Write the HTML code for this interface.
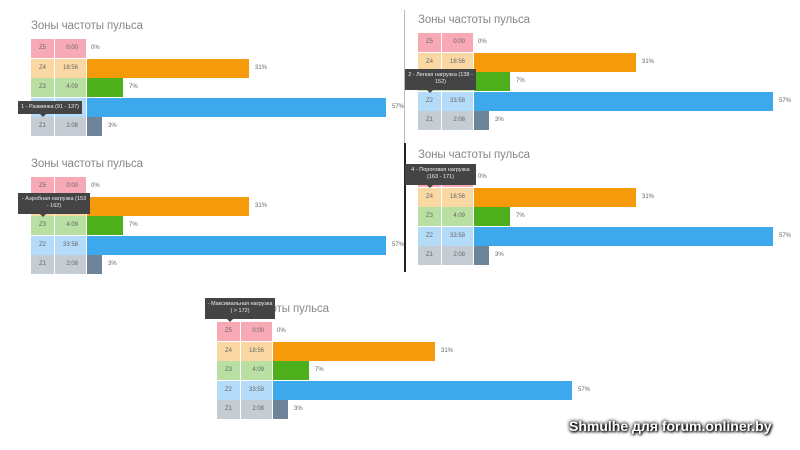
<!DOCTYPE html>
<html><head><meta charset="utf-8"><style>
body{margin:0;width:800px;height:450px;background:#fff;position:relative;overflow:hidden;font-family:"Liberation Sans","DejaVu Sans",sans-serif}
.p{position:absolute}
.t{position:absolute;left:0;top:-19px;font-size:11.5px;color:#888;white-space:nowrap;letter-spacing:-0.1px}
.r{position:absolute;left:0;height:19px;width:400px}
.a,.b{position:absolute;top:0;height:19px;font-size:6px;color:#666;text-align:center;line-height:19px}
.a{left:0;width:23px}.b{left:24px;width:31px;text-align:right}
.b span{margin-right:8px}
.bar{position:absolute;left:56px;top:0;height:19px}
.pc{position:absolute;top:0;line-height:19px;font-size:6px;color:#666}
.z5 .a,.z5 .b{background:#f7a9b5}.z4 .a,.z4 .b{background:#fad8a4}.z3 .a,.z3 .b{background:#b9e0a2}.z2 .a,.z2 .b{background:#b4dbf7}.z1 .a,.z1 .b{background:#c6ccd3}
.z4 .bar{width:162px;background:#f59b0b}.z3 .bar{width:36px;background:#4daf1b}.z2 .bar{width:299px;background:#3ea8ec}.z1 .bar{width:15px;background:#6d8499}
.z5 .pc{left:60px}.z4 .pc{left:224px}.z3 .pc{left:98px}.z2 .pc{left:361px}.z1 .pc{left:77px}
.z5{top:0}.z4{top:19.6px}.z3{top:39.2px}.z2{top:58.8px}.z1{top:78.4px}
.tip{position:absolute;background:#444;color:#eee;font-size:5.5px;line-height:7px;text-align:center;padding:3px 2px;box-sizing:border-box;white-space:nowrap;z-index:5}
.tip:after{content:"";position:absolute;bottom:-3px;left:22px;border:3px solid transparent;border-bottom:0;border-top-color:#444}
.wm{position:absolute;left:569px;top:418px;font-size:14px;font-weight:bold;color:#fff;text-shadow:0 0 3px #000,0 0 4px #000,1px 1px 2px #000;white-space:nowrap}
</style></head><body>

<div style="position:absolute;left:404px;top:10px;width:1px;height:133px;background:#bbb"></div>
<div style="position:absolute;left:404px;top:143px;width:2px;height:129px;background:#222"></div>

<div class="p" style="left:31px;top:39px"><div class="t">Зоны частоты пульса</div>
<div class="r z5"><div class="a">Z5</div><div class="b"><span>0:00</span></div><div class="pc">0%</div></div>
<div class="r z4"><div class="a">Z4</div><div class="b"><span>18:56</span></div><div class="bar"></div><div class="pc">31%</div></div>
<div class="r z3"><div class="a">Z3</div><div class="b"><span>4:09</span></div><div class="bar"></div><div class="pc">7%</div></div>
<div class="r z2"><div class="a">Z2</div><div class="b"><span>33:58</span></div><div class="bar"></div><div class="pc">57%</div></div>
<div class="r z1"><div class="a">Z1</div><div class="b"><span>2:08</span></div><div class="bar"></div><div class="pc">3%</div></div>
</div>

<div class="p" style="left:418px;top:33px"><div class="t">Зоны частоты пульса</div>
<div class="r z5"><div class="a">Z5</div><div class="b"><span>0:00</span></div><div class="pc">0%</div></div>
<div class="r z4"><div class="a">Z4</div><div class="b"><span>18:56</span></div><div class="bar"></div><div class="pc">31%</div></div>
<div class="r z3"><div class="a">Z3</div><div class="b"><span>4:09</span></div><div class="bar"></div><div class="pc">7%</div></div>
<div class="r z2"><div class="a">Z2</div><div class="b"><span>33:58</span></div><div class="bar"></div><div class="pc">57%</div></div>
<div class="r z1"><div class="a">Z1</div><div class="b"><span>2:08</span></div><div class="bar"></div><div class="pc">3%</div></div>
</div>

<div class="p" style="left:31px;top:177px"><div class="t">Зоны частоты пульса</div>
<div class="r z5"><div class="a">Z5</div><div class="b"><span>0:00</span></div><div class="pc">0%</div></div>
<div class="r z4"><div class="a">Z4</div><div class="b"><span>18:56</span></div><div class="bar"></div><div class="pc">31%</div></div>
<div class="r z3"><div class="a">Z3</div><div class="b"><span>4:09</span></div><div class="bar"></div><div class="pc">7%</div></div>
<div class="r z2"><div class="a">Z2</div><div class="b"><span>33:58</span></div><div class="bar"></div><div class="pc">57%</div></div>
<div class="r z1"><div class="a">Z1</div><div class="b"><span>2:08</span></div><div class="bar"></div><div class="pc">3%</div></div>
</div>

<div class="p" style="left:418px;top:168px"><div class="t">Зоны частоты пульса</div>
<div class="r z5"><div class="a">Z5</div><div class="b"><span>0:00</span></div><div class="pc">0%</div></div>
<div class="r z4"><div class="a">Z4</div><div class="b"><span>18:56</span></div><div class="bar"></div><div class="pc">31%</div></div>
<div class="r z3"><div class="a">Z3</div><div class="b"><span>4:09</span></div><div class="bar"></div><div class="pc">7%</div></div>
<div class="r z2"><div class="a">Z2</div><div class="b"><span>33:58</span></div><div class="bar"></div><div class="pc">57%</div></div>
<div class="r z1"><div class="a">Z1</div><div class="b"><span>2:08</span></div><div class="bar"></div><div class="pc">3%</div></div>
</div>

<div class="p" style="left:217px;top:322px"><div class="t">Зоны частоты пульса</div>
<div class="r z5"><div class="a">Z5</div><div class="b"><span>0:00</span></div><div class="pc">0%</div></div>
<div class="r z4"><div class="a">Z4</div><div class="b"><span>18:56</span></div><div class="bar"></div><div class="pc">31%</div></div>
<div class="r z3"><div class="a">Z3</div><div class="b"><span>4:09</span></div><div class="bar"></div><div class="pc">7%</div></div>
<div class="r z2"><div class="a">Z2</div><div class="b"><span>33:58</span></div><div class="bar"></div><div class="pc">57%</div></div>
<div class="r z1"><div class="a">Z1</div><div class="b"><span>2:08</span></div><div class="bar"></div><div class="pc">3%</div></div>
</div>

<div class="tip" style="left:18px;top:101px;width:64px;height:13px;padding-top:3px">1 - Разминка (91 - 137)</div>
<div class="tip" style="left:405px;top:69px;width:71px;height:21px">2 - Легкая нагрузка (138 -<br>152)</div>
<div class="tip" style="left:18px;top:193px;width:72px;height:21px">- Аэробная нагрузка (153<br>- 162)</div>
<div class="tip" style="left:405px;top:164px;width:71px;height:21px">4 - Пороговая нагрузка<br>(163 - 171)</div>
<div class="tip" style="left:205px;top:298px;width:70px;height:21px">- Максимальная нагрузка<br>( &gt; 172)</div>

<div class="wm">Shmulhe для forum.onliner.by</div>
</body></html>
